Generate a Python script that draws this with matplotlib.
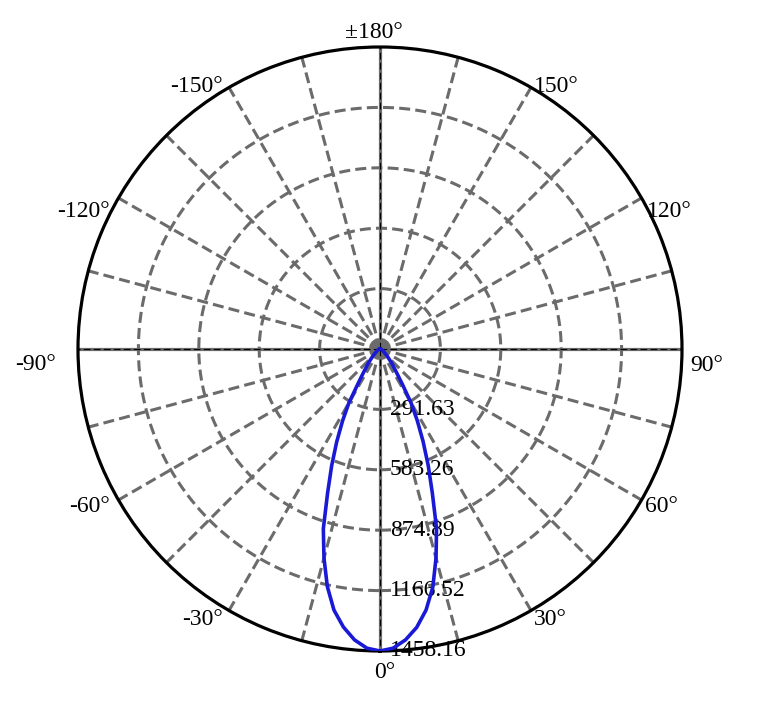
import numpy as np
import matplotlib.pyplot as plt

plt.rcParams['font.family'] = ['Liberation Serif', 'DejaVu Serif']

# luminous intensity curve (angle from nadir in degrees, intensity)
angles_deg = [-180, -150, -120, -90, -80, -70, -60, -50, -45, -40, -35,
              -32.5, -30, -27.5, -25, -22.5, -20, -17.5, -15, -12.5, -10,
              -7.5, -5, -2.5, 0, 2.5, 5, 7.5, 10, 12.5, 15, 17.5, 20, 22.5,
              25, 27.5, 30, 32.5, 35, 40, 45, 50, 60, 70, 80, 90, 120, 150, 180]
intensity = [0, 0, 0, 0, 4, 8, 15, 30, 50, 85, 140,
             195, 300, 392, 495, 610, 740, 910, 1045, 1175, 1280,
             1354, 1410, 1446, 1458.16, 1446, 1410, 1356, 1280, 1178, 1045, 908, 738, 608,
             492, 390, 298, 198, 140, 85, 50, 30, 15, 8, 4, 0, 0, 0, 0]

ring_values = [291.63, 583.26, 874.89, 1166.52, 1458.16]
r_max = 1458.16

theta_ticks = list(range(0, 360, 15))
label_angles = [0, 30, 60, 90, 120, 150, 180, 210, 240, 270, 300, 330]
label_texts = ['0°', '30°', '60°', '90°', '120°', '150°', '±180°',
               '-150°', '-120°', '-90°', '-60°', '-30°']
# pixel offsets of each label from its point on the rim (x right, y down)
label_dx = [4.5, 19, 19.5, 25, 27.5, 25, -6, -33, -35, -42, -28.5, -26.5]
label_dy = [27, 14.5, 11.7, 22, 19, 4.5, -8.7, 4.5, 18.7, 21, 11.7, 14.5]

grey = '#6b6b6b'
dash = (0, (3.6, 1.7))

fig = plt.figure(figsize=(7.68, 7.06), dpi=100)
ax = fig.add_axes([78 / 768, 55 / 706, 604 / 768, 604 / 706], projection='polar')
ax.set_theta_zero_location('S')
ax.set_theta_direction(1)
ax.set_ylim(0, r_max)

# grid
ax.grid(False)
for t in theta_ticks:
    th = np.deg2rad(t)
    if t % 90 == 0:
        ax.plot([th, th], [0, r_max], color=grey, lw=2.3, solid_capstyle='butt', zorder=1)
        ax.plot([th, th], [0, r_max], color='black', lw=0.8, ls=(0, (6, 3)), zorder=1.1)
    else:
        ax.plot([th, th], [0, r_max], color=grey, lw=2.2, ls=dash, zorder=1)

circ = np.linspace(0, 2 * np.pi, 400)
for rv in ring_values[:-1]:
    ax.plot(circ, [rv] * len(circ), color=grey, lw=2.2, ls=dash, zorder=1)

ax.spines['polar'].set_color('black')
ax.spines['polar'].set_linewidth(2.3)

ax.set_xticks([])
ax.set_yticks([])

for ang, txt, dx, dy in zip(label_angles, label_texts, label_dx, label_dy):
    ax.annotate(txt, xy=(np.deg2rad(ang), r_max), xytext=(dx, -dy),
                textcoords='offset pixels', ha='center', va='baseline',
                fontsize=17, annotation_clip=False)

for rv in ring_values:
    ax.annotate(f'{rv:.2f}', xy=(0, rv), xytext=(7, 0), textcoords='offset points',
                ha='left', va='center', fontsize=17, zorder=3)

ax.plot(np.deg2rad(angles_deg), intensity, color='#1a1ad6', lw=2.6, zorder=4)

plt.savefig('out.png', dpi=100)
